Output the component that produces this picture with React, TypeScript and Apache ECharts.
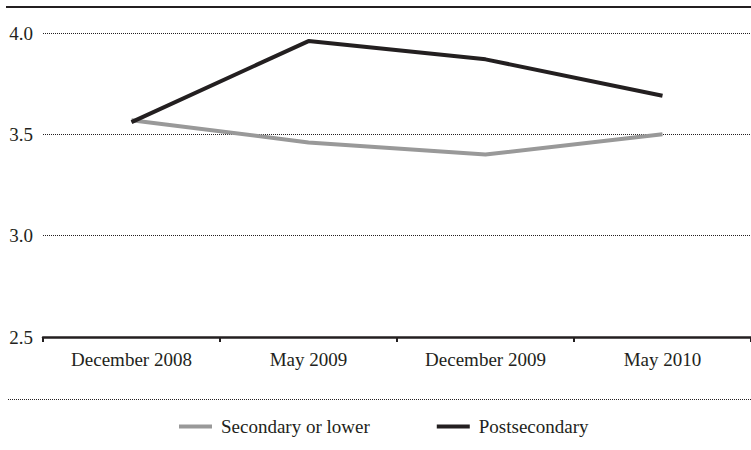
import React, { useEffect, useRef } from "react";
import * as echarts from "echarts";

const categories = ["December 2008", "May 2009", "December 2009", "May 2010"];
const secondaryOrLower = [3.57, 3.46, 3.40, 3.50];
const postsecondary = [3.56, 3.96, 3.87, 3.69];
const yTicks = [2.5, 3.0, 3.5, 4.0];

const FONT = "Liberation Serif";

export default function App() {
  const ref = useRef<HTMLDivElement>(null);
  useEffect(() => {
    if (!ref.current) return;
    const chart = echarts.init(ref.current, null, { renderer: "svg" });
    chart.setOption({
      animation: false,
      backgroundColor: "#ffffff",
      textStyle: { fontFamily: FONT },
      grid: { left: 43, right: 0, top: 33, bottom: 113, containLabel: false },
      xAxis: {
        type: "category",
        data: categories,
        boundaryGap: true,
        axisLine: { lineStyle: { color: "#231f20", width: 2.5 } },
        axisTick: { show: true, length: 5, lineStyle: { color: "#231f20", width: 2 } },
        axisLabel: { color: "#231f20", fontSize: 19, fontFamily: FONT, margin: 13 },
        splitLine: { show: false },
      },
      yAxis: {
        type: "value",
        min: yTicks[0],
        max: yTicks[yTicks.length - 1],
        interval: 0.5,
        axisLine: { show: false },
        axisTick: { show: false },
        axisLabel: {
          color: "#231f20",
          fontSize: 19,
          fontFamily: FONT,
          margin: 10,
          formatter: (v: number) => v.toFixed(1),
        },
        splitLine: {
          show: true,
          lineStyle: { color: "#231f20", type: [1, 1], width: 1 },
        },
      },
      legend: {
        top: 412,
        left: 174,
        itemWidth: 33,
        itemHeight: 4,
        itemGap: 67,
        icon: "rect",
        textStyle: { color: "#231f20", fontSize: 19, fontFamily: FONT, padding: [0, 0, 0, 4] },
        data: ["Secondary or lower", "Postsecondary"],
      },
      graphic: [
        {
          type: "line",
          shape: { x1: 6, y1: 7, x2: 751, y2: 7 },
          style: { stroke: "#231f20", lineWidth: 2 },
        },
        {
          type: "line",
          shape: { x1: 8, y1: 399.5, x2: 751, y2: 399.5 },
          style: { stroke: "#231f20", lineWidth: 1, lineDash: [1, 1] },
        },
      ],
      series: [
        {
          name: "Secondary or lower",
          type: "line",
          data: secondaryOrLower,
          symbol: "none",
          lineStyle: { color: "#999999", width: 4 },
          itemStyle: { color: "#999999" },
        },
        {
          name: "Postsecondary",
          type: "line",
          data: postsecondary,
          symbol: "none",
          lineStyle: { color: "#231f20", width: 4 },
          itemStyle: { color: "#231f20" },
        },
      ],
    });
    return () => chart.dispose();
  }, []);
  return (
    <div
      ref={ref}
      style={{ position: "absolute", left: 0, top: 0, width: 751, height: 450 }}
    />
  );
}
